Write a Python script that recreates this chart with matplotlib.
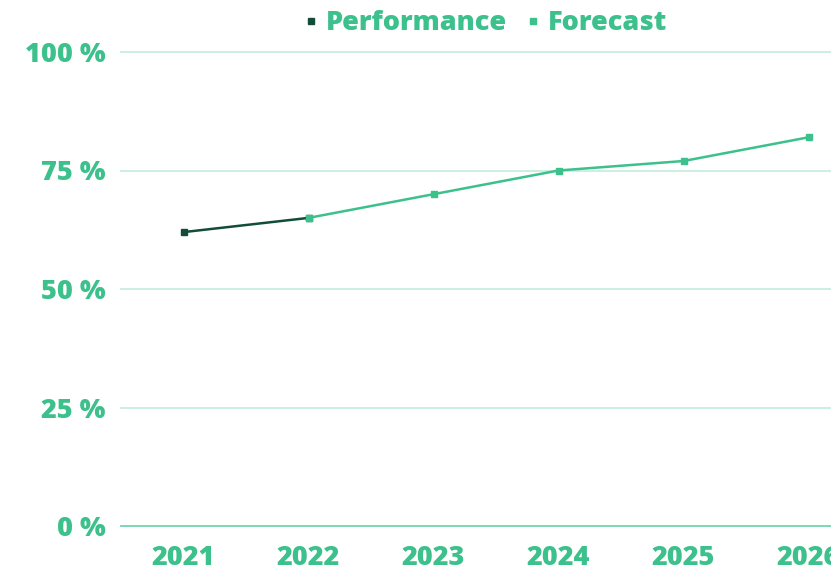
import matplotlib
matplotlib.use('Agg')
import matplotlib.pyplot as plt

# Chart data
years = ['2021', '2022', '2023', '2024', '2025', '2026']
performance = [62, 65, None, None, None, None]
forecast = [None, 65, 70, 75, 77, 82]
y_ticks = [0, 25, 50, 75, 100]

GREEN = '#3cc08c'
DARK = '#134d38'

plt.rcParams['font.family'] = ['Open Sans', 'DejaVu Sans']

fig = plt.figure(figsize=(8.31, 5.74), dpi=100)
ax = fig.add_axes([121 / 831, 1 - 526 / 574, 1 - 121 / 831, (526 - 52) / 574])

x = list(range(len(years)))
perf_x = [i for i, v in zip(x, performance) if v is not None]
perf_y = [v for v in performance if v is not None]
fc_x = [i for i, v in zip(x, forecast) if v is not None]
fc_y = [v for v in forecast if v is not None]

ax.plot(perf_x, perf_y, color=DARK, lw=1.8, marker='s', ms=4.5, label='Performance', zorder=3)
ax.plot(fc_x, fc_y, color=GREEN, lw=1.8, marker='s', ms=4.5, label='Forecast', zorder=4)

ax.set_xlim(-0.5, 5.18)
ax.set_ylim(0, 100)
ax.set_xticks(x)
ax.set_xticklabels(years)
ax.set_yticks(y_ticks)
ax.set_yticklabels([f'{v} %' for v in y_ticks])

for spine in ax.spines.values():
    spine.set_visible(False)
ax.tick_params(length=0, labelsize=19.5, labelcolor=GREEN)
ax.tick_params(axis='y', pad=11)
ax.tick_params(axis='x', pad=14)
for lbl in ax.get_xticklabels() + ax.get_yticklabels():
    lbl.set_fontweight('heavy')

for v in y_ticks:
    ax.axhline(v, color='#6fd4ad' if v == 0 else '#c8eedf', lw=1.3, zorder=1, clip_on=False)

leg = fig.legend(loc='center', bbox_to_anchor=(487 / 831, 1 - 23 / 574), ncol=2,
                 frameon=False, handlelength=0.3, handletextpad=0.4, columnspacing=0.8,
                 prop={'size': 19.5, 'weight': 'heavy'})
for h in leg.legend_handles:
    h.set_linestyle('none')
for t in leg.get_texts():
    t.set_color(GREEN)

fig.savefig('out.png', dpi=100)
